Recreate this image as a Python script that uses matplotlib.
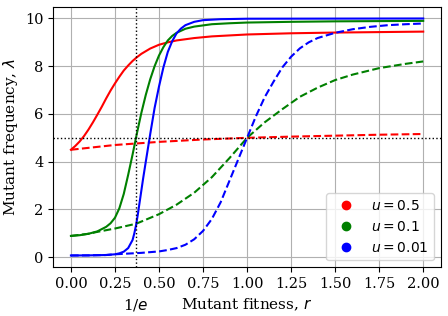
import matplotlib
matplotlib.use("Agg")
matplotlib.rcParams.update({
    "font.family": "serif",
    "font.size": 11,
    "xtick.labelsize": 10.5,
    "ytick.labelsize": 10.5,
})

import matplotlib.pyplot as plt
import matplotlib.transforms as mtransforms
from matplotlib.lines import Line2D
import numpy as np

# values
# u = 0.5
red_solid_r = [0.0, 0.025, 0.05, 0.075, 0.1, 0.125, 0.15, 0.175, 0.2, 0.225, 0.25, 0.275, 0.3, 0.325,
               0.35, 0.375, 0.4, 0.45, 0.5, 0.55, 0.6, 0.7, 0.8, 1.0, 1.25, 1.5, 1.75, 2.0]
red_solid_l = [4.5, 4.66, 4.85, 5.08, 5.35, 5.65, 5.97, 6.3, 6.65, 6.98, 7.28, 7.56, 7.82, 8.03,
               8.22, 8.38, 8.52, 8.74, 8.9, 9.0, 9.08, 9.18, 9.25, 9.33, 9.38, 9.41, 9.43, 9.45]
red_dash_r = [0.0, 0.25, 0.5, 0.75, 1.0, 1.25, 1.5, 1.75, 2.0]
red_dash_l = [4.5, 4.7, 4.83, 4.93, 5.0, 5.05, 5.09, 5.13, 5.16]

# u = 0.1
green_solid_r = [0.0, 0.05, 0.1, 0.15, 0.2, 0.225, 0.25, 0.275, 0.3, 0.325, 0.35, 0.375, 0.4, 0.425,
                 0.45, 0.475, 0.5, 0.525, 0.55, 0.575, 0.6, 0.65, 0.7, 0.8, 0.9, 1.0, 1.25, 1.5, 2.0]
green_solid_l = [0.89, 0.92, 0.98, 1.08, 1.27, 1.42, 1.65, 2.05, 2.65, 3.45, 4.3, 5.2, 6.05, 6.8,
                 7.45, 8.0, 8.45, 8.8, 9.08, 9.27, 9.4, 9.57, 9.66, 9.76, 9.8, 9.83, 9.86, 9.88, 9.9]
green_dash_r = [0.0, 0.1, 0.15, 0.25, 0.37, 0.5, 0.6, 0.7, 0.8, 0.9, 1.0, 1.1, 1.2, 1.3, 1.4, 1.5,
                1.6, 1.75, 1.9, 2.0]
green_dash_l = [0.89, 0.98, 1.06, 1.2, 1.4, 1.8, 2.2, 2.7, 3.35, 4.15, 5.0, 5.65, 6.2, 6.72, 7.1, 7.42,
                7.65, 7.92, 8.1, 8.2]

# u = 0.01
blue_solid_r = [0.0, 0.1, 0.2, 0.25, 0.275, 0.3, 0.325, 0.35, 0.36, 0.37, 0.38, 0.39, 0.4, 0.41,
                0.425, 0.45, 0.475, 0.5, 0.525, 0.55, 0.575, 0.6, 0.625, 0.65, 0.7, 0.75, 0.85,
                1.0, 2.0]
blue_solid_l = [0.07, 0.075, 0.09, 0.12, 0.16, 0.23, 0.38, 0.72, 1.0, 1.35, 1.8, 2.3, 2.8, 3.3,
                4.0, 5.15, 6.25, 7.15, 7.95, 8.6, 9.05, 9.38, 9.58, 9.72, 9.86, 9.93, 9.97,
                9.99, 10.0]
blue_dash_r = [0.0, 0.1, 0.2, 0.25, 0.3, 0.4, 0.5, 0.55, 0.6, 0.65, 0.7, 0.75, 0.8, 0.85, 0.9,
               0.95, 1.0, 1.05, 1.1, 1.15, 1.2, 1.25, 1.3, 1.35, 1.4, 1.5, 1.6, 1.7, 1.8, 1.9, 2.0]
blue_dash_l = [0.07, 0.075, 0.09, 0.12, 0.14, 0.18, 0.24, 0.3, 0.38, 0.52, 0.75, 1.1, 1.6, 2.3, 3.2,
               4.1, 5.0, 5.9, 6.7, 7.35, 7.95, 8.4, 8.75, 9.0, 9.18, 9.4, 9.55, 9.65, 9.72, 9.76, 9.79]

u_labels = ["$u = 0.5$", "$u = 0.1$", "$u = 0.01$"]
colours = ["red", "green", "blue"]
x_ticks = [0.0, 0.25, 0.5, 0.75, 1.0, 1.25, 1.5, 1.75, 2.0]
y_ticks = [0, 2, 4, 6, 8, 10]

series = [
    (red_solid_r, red_solid_l, red_dash_r, red_dash_l),
    (green_solid_r, green_solid_l, green_dash_r, green_dash_l),
    (blue_solid_r, blue_solid_l, blue_dash_r, blue_dash_l),
]

fig, ax = plt.subplots(figsize=(4.48, 3.16), dpi=100)
fig.subplots_adjust(left=0.119, right=0.984, bottom=0.154, top=0.979)

for (rs, ls, rd, ld), c in zip(series, colours):
    ax.plot(rs, ls, color=c, lw=1.5)
    ax.plot(rd, ld, color=c, lw=1.5, ls="--")

ax.axvline(1 / np.e, color="black", ls=":", lw=1)
ax.axhline(5, color="black", ls=":", lw=1)

ax.grid(True)
ax.set_xticks(x_ticks)
ax.set_yticks(y_ticks)

ax.set_xlabel("Mutant fitness, $r$")
ax.set_ylabel(r"Mutant frequency, $\lambda$")

# mark 1/e under the axis, level with the x label
trans = mtransforms.blended_transform_factory(ax.transData, ax.xaxis.label.get_transform())
fig.canvas.draw()
label_y = ax.xaxis.label.get_position()[1]
ax.text(1 / np.e, label_y, "1/$e$", transform=trans, ha="center", va="top")

handles = [Line2D([], [], color=c, marker="o", ls="") for c in colours]
ax.legend(handles, u_labels, loc="lower right", fontsize=10)

plt.savefig("out.png", dpi=100)
